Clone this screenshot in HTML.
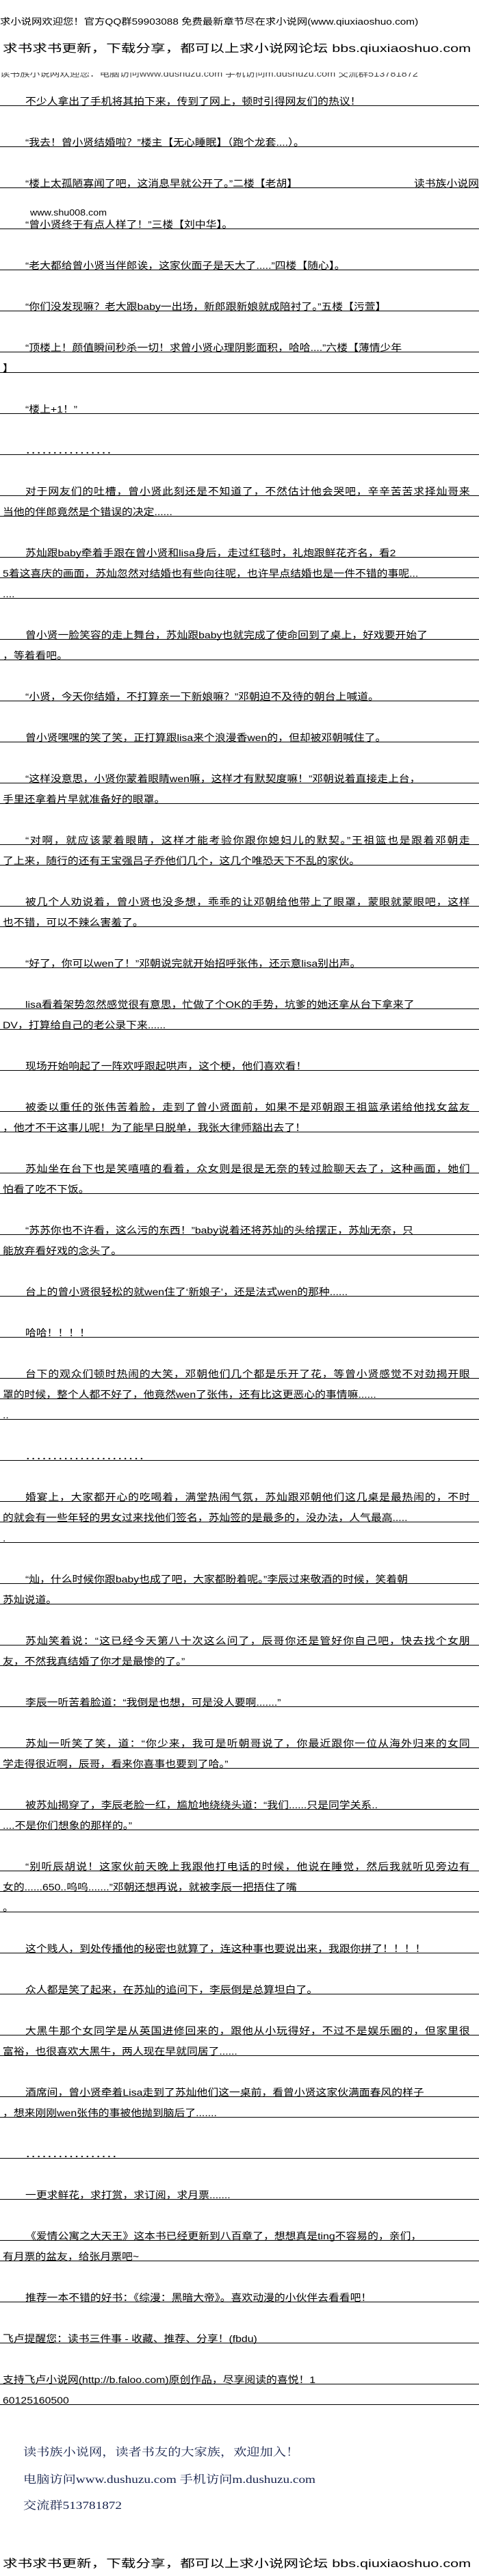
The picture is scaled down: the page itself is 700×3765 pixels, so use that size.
<!DOCTYPE html>
<html><head><meta charset="utf-8">
<style>
html,body{margin:0;padding:0;background:#fff;}
body{width:700px;height:3765px;position:relative;overflow:hidden;font-family:"Liberation Sans","WenQuanYi Zen Hei","Noto Sans CJK SC",sans-serif;color:#000;}
.r{position:absolute;left:0;width:700px;height:29px;border-bottom:1px solid #000;}
.r span{position:absolute;top:16px;left:4px;font-size:14px;line-height:14px;white-space:nowrap;transform:scaleX(1.13);transform-origin:0 0;}
.r span.i{left:37px}
.r span.j{width:575px;text-align:justify;text-align-last:justify;white-space:normal;height:14px;overflow:hidden}
.r span.d{letter-spacing:0}
.hd{position:absolute;left:4px;white-space:nowrap;transform-origin:0 0;}
.ft{position:absolute;left:34px;white-space:nowrap;font-family:"Liberation Serif","Noto Serif CJK SC",serif;font-size:16px;line-height:18px;color:#14204a;transform:scaleX(1.2);transform-origin:0 0;}
</style></head><body>

<div class="hd" style="top:24px;left:0;font-size:13px;line-height:15px;transform:scaleX(1.18);">求小说网欢迎您！官方QQ群59903088 免费最新章节尽在求小说网(www.qiuxiaoshuo.com)</div>
<div class="hd" style="top:63px;font-size:16px;line-height:18px;transform:scaleX(1.35);">求书求书更新，下载分享，都可以上求小说网论坛 bbs.qiuxiaoshuo.com</div>
<div style="position:absolute;top:106px;left:0;width:700px;height:12px;overflow:hidden;">
<div class="hd" style="top:-6px;left:0;font-size:13px;line-height:15px;color:#444;transform:scaleX(1.12);">读书族小说网欢迎您：电脑访问www.dushuzu.com 手机访问m.dushuzu.com 交流群513781872</div></div>

<div class="r" style="top:125px"><span class="i">不少人拿出了手机将其拍下来，传到了网上，顿时引得网友们的热议！</span></div>
<div class="r" style="top:185px"><span class="i">“我去！曾小贤结婚啦？”楼主【无心睡眠】（跑个龙套....）。</span></div>
<div class="r" style="top:245px"><span class="i">“楼上太孤陋寡闻了吧，这消息早就公开了。”二楼【老胡】</span><span style="left:605px">读书族小说网</span></div>
<div class="hd" style="top:303px;left:44px;font-size:13px;line-height:15px;transform:scaleX(1.1);">www.shu008.com</div>
<div class="r" style="top:305px"><span class="i">“曾小贤终于有点人样了！”三楼【刘中华】。</span></div>
<div class="r" style="top:365px"><span class="i">“老大都给曾小贤当伴郎诶，这家伙面子是天大了.....”四楼【随心】。</span></div>
<div class="r" style="top:425px"><span class="i">“你们没发现嘛？老大跟baby一出场，新郎跟新娘就成陪衬了。”五楼【污萱】</span></div>
<div class="r" style="top:485px"><span class="i">“顶楼上！颜值瞬间秒杀一切！求曾小贤心理阴影面积，哈哈....”六楼【薄情少年</span></div>
<div class="r" style="top:515px"><span>】</span></div>
<div class="r" style="top:575px"><span class="i">“楼上+1！”</span></div>
<div class="r" style="top:635px"><span class="i">．．．．．．．．．．．．．．．．</span></div>
<div class="r" style="top:695px"><span class="i j">对于网友们的吐槽，曾小贤此刻还是不知道了，不然估计他会哭吧，辛辛苦苦求择灿哥来</span></div>
<div class="r" style="top:725px"><span>当他的伴郎竟然是个错误的决定......</span></div>
<div class="r" style="top:785px"><span class="i">苏灿跟baby牵着手跟在曾小贤和lisa身后，走过红毯时，礼炮跟鲜花齐名，看2</span></div>
<div class="r" style="top:815px"><span>5着这喜庆的画面，苏灿忽然对结婚也有些向往呢，也许早点结婚也是一件不错的事呢...</span></div>
<div class="r" style="top:845px"><span>....</span></div>
<div class="r" style="top:905px"><span class="i">曾小贤一脸笑容的走上舞台，苏灿跟baby也就完成了使命回到了桌上，好戏要开始了</span></div>
<div class="r" style="top:935px"><span>，等着看吧。</span></div>
<div class="r" style="top:995px"><span class="i">“小贤，今天你结婚，不打算亲一下新娘嘛？”邓朝迫不及待的朝台上喊道。</span></div>
<div class="r" style="top:1055px"><span class="i">曾小贤嘿嘿的笑了笑，正打算跟lisa来个浪漫香wen的，但却被邓朝喊住了。</span></div>
<div class="r" style="top:1115px"><span class="i">“这样没意思，小贤你蒙着眼睛wen嘛，这样才有默契度嘛！”邓朝说着直接走上台，</span></div>
<div class="r" style="top:1145px"><span>手里还拿着片早就准备好的眼罩。</span></div>
<div class="r" style="top:1205px"><span class="i j">“对啊，就应该蒙着眼睛，这样才能考验你跟你媳妇儿的默契。”王祖篮也是跟着邓朝走</span></div>
<div class="r" style="top:1235px"><span>了上来，随行的还有王宝强吕子乔他们几个，这几个唯恐天下不乱的家伙。</span></div>
<div class="r" style="top:1295px"><span class="i j">被几个人劝说着，曾小贤也没多想，乖乖的让邓朝给他带上了眼罩，蒙眼就蒙眼吧，这样</span></div>
<div class="r" style="top:1325px"><span>也不错，可以不辣么害羞了。</span></div>
<div class="r" style="top:1385px"><span class="i">“好了，你可以wen了！”邓朝说完就开始招呼张伟，还示意lisa别出声。</span></div>
<div class="r" style="top:1445px"><span class="i">lisa看着架势忽然感觉很有意思，忙做了个OK的手势，坑爹的她还拿从台下拿来了</span></div>
<div class="r" style="top:1475px"><span>DV，打算给自己的老公录下来......</span></div>
<div class="r" style="top:1535px"><span class="i">现场开始响起了一阵欢呼跟起哄声，这个梗，他们喜欢看！</span></div>
<div class="r" style="top:1595px"><span class="i j">被委以重任的张伟苦着脸，走到了曾小贤面前，如果不是邓朝跟王祖篮承诺给他找女盆友</span></div>
<div class="r" style="top:1625px"><span>，他才不干这事儿呢！为了能早日脱单，我张大律师豁出去了！</span></div>
<div class="r" style="top:1685px"><span class="i j">苏灿坐在台下也是笑嘻嘻的看着，众女则是很是无奈的转过脸聊天去了，这种画面，她们</span></div>
<div class="r" style="top:1715px"><span>怕看了吃不下饭。</span></div>
<div class="r" style="top:1775px"><span class="i">“苏苏你也不许看，这么污的东西！”baby说着还将苏灿的头给摆正，苏灿无奈，只</span></div>
<div class="r" style="top:1805px"><span>能放弃看好戏的念头了。</span></div>
<div class="r" style="top:1865px"><span class="i">台上的曾小贤很轻松的就wen住了‘新娘子’，还是法式wen的那种......</span></div>
<div class="r" style="top:1925px"><span class="i">哈哈！！！！</span></div>
<div class="r" style="top:1985px"><span class="i j">台下的观众们顿时热闹的大笑，邓朝他们几个都是乐开了花，等曾小贤感觉不对劲揭开眼</span></div>
<div class="r" style="top:2015px"><span>罩的时候，整个人都不好了，他竟然wen了张伟，还有比这更恶心的事情嘛......</span></div>
<div class="r" style="top:2045px"><span>..</span></div>
<div class="r" style="top:2105px"><span class="i">．．．．．．．．．．．．．．．．．．．．．．</span></div>
<div class="r" style="top:2165px"><span class="i j">婚宴上，大家都开心的吃喝着，满堂热闹气氛，苏灿跟邓朝他们这几桌是最热闹的，不时</span></div>
<div class="r" style="top:2195px"><span>的就会有一些年轻的男女过来找他们签名，苏灿签的是最多的，没办法，人气最高.....</span></div>
<div class="r" style="top:2225px"><span>.</span></div>
<div class="r" style="top:2285px"><span class="i">“灿，什么时候你跟baby也成了吧，大家都盼着呢。”李辰过来敬酒的时候，笑着朝</span></div>
<div class="r" style="top:2315px"><span>苏灿说道。</span></div>
<div class="r" style="top:2375px"><span class="i j">苏灿笑着说：“这已经今天第八十次这么问了，辰哥你还是管好你自己吧，快去找个女朋</span></div>
<div class="r" style="top:2405px"><span>友，不然我真结婚了你才是最惨的了。”</span></div>
<div class="r" style="top:2465px"><span class="i">李辰一听苦着脸道：“我倒是也想，可是没人要啊.......”</span></div>
<div class="r" style="top:2525px"><span class="i j">苏灿一听笑了笑，道：“你少来，我可是听朝哥说了，你最近跟你一位从海外归来的女同</span></div>
<div class="r" style="top:2555px"><span>学走得很近啊，辰哥，看来你喜事也要到了哈。”</span></div>
<div class="r" style="top:2615px"><span class="i">被苏灿揭穿了，李辰老脸一红，尴尬地绕绕头道：“我们......只是同学关系..</span></div>
<div class="r" style="top:2645px"><span>....不是你们想象的那样的。”</span></div>
<div class="r" style="top:2705px"><span class="i j">“别听辰胡说！这家伙前天晚上我跟他打电话的时候，他说在睡觉，然后我就听见旁边有</span></div>
<div class="r" style="top:2735px"><span>女的......650..呜呜.......”邓朝还想再说，就被李辰一把捂住了嘴</span></div>
<div class="r" style="top:2765px"><span>。</span></div>
<div class="r" style="top:2825px"><span class="i">这个贱人，到处传播他的秘密也就算了，连这种事也要说出来，我跟你拼了！！！！</span></div>
<div class="r" style="top:2885px"><span class="i">众人都是笑了起来，在苏灿的追问下，李辰倒是总算坦白了。</span></div>
<div class="r" style="top:2945px"><span class="i j">大黑牛那个女同学是从英国进修回来的，跟他从小玩得好，不过不是娱乐圈的，但家里很</span></div>
<div class="r" style="top:2975px"><span>富裕，也很喜欢大黑牛，两人现在早就同居了......</span></div>
<div class="r" style="top:3035px"><span class="i">酒席间，曾小贤牵着Lisa走到了苏灿他们这一桌前，看曾小贤这家伙满面春风的样子</span></div>
<div class="r" style="top:3065px"><span>，想来刚刚wen张伟的事被他抛到脑后了.......</span></div>
<div class="r" style="top:3125px"><span class="i">．．．．．．．．．．．．．．．．．</span></div>
<div class="r" style="top:3185px"><span class="i">一更求鲜花，求打赏，求订阅，求月票.......</span></div>
<div class="r" style="top:3245px"><span class="i">《爱情公寓之大天王》这本书已经更新到八百章了，想想真是ting不容易的，亲们，</span></div>
<div class="r" style="top:3275px"><span>有月票的盆友，给张月票吧~</span></div>
<div class="r" style="top:3335px"><span class="i">推荐一本不错的好书：《综漫：黑暗大帝》。喜欢动漫的小伙伴去看看吧！</span></div>
<div class="r" style="top:3395px"><span>飞卢提醒您：读书三件事 - 收藏、推荐、分享！(fbdu)</span></div>
<div class="r" style="top:3455px"><span>支持飞卢小说网(http://b.faloo.com)原创作品，尽享阅读的喜悦！1</span></div>
<div class="r" style="top:3485px"><span>60125160500</span></div>

<div class="ft" style="top:3576px">读书族小说网，读者书友的大家族，欢迎加入！</div>
<div class="ft" style="top:3616px">电脑访问www.dushuzu.com 手机访问m.dushuzu.com</div>
<div class="ft" style="top:3654px">交流群513781872</div>

<div class="hd" style="top:3739px;font-size:16px;line-height:18px;transform:scaleX(1.35);">求书求书更新，下载分享，都可以上求小说网论坛 bbs.qiuxiaoshuo.com</div>

</body></html>
